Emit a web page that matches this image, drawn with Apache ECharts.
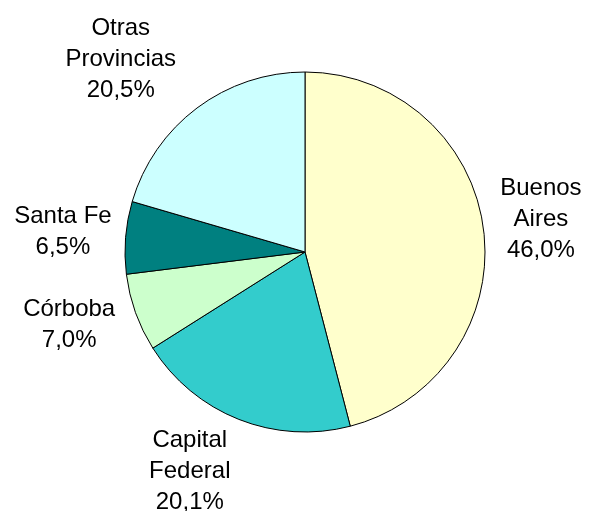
<!DOCTYPE html>
<html>
<head>
<meta charset="utf-8">
<script src="https://cdn.jsdelivr.net/npm/echarts@6/dist/echarts.min.js"></script>
<style>
  html, body { margin: 0; padding: 0; background: #fff; }
  #chart { width: 592px; height: 511px; }
</style>
</head>
<body>
<div id="chart"></div>
<script>
// data, clockwise from 12 o'clock
var regions = ['Buenos\nAires', 'Capital\nFederal', 'Córboba', 'Santa Fe', 'Otras\nProvincias'];
var shares = [46.0, 20.1, 7.0, 6.5, 20.5];
var sliceColors = ['#ffffcc', '#33cccc', '#ccffcc', '#008080', '#ccffff'];

document.addEventListener('DOMContentLoaded', function() {
    var chart = echarts.init(document.getElementById('chart'), null, { renderer: 'canvas' });

    var cx = 305, cy = 252, R = 180, gap = 12;
    var total = shares.reduce(function(a, b) { return a + b; }, 0);

    // mid angle of each slice, measured clockwise from 12 o'clock
    var midAngles = [];
    var acc = 0;
    shares.forEach(function(v) {
        midAngles.push((acc + v / 2) / total * Math.PI * 2);
        acc += v;
    });

    var pieData = regions.map(function(name, i) {
        return { name: name, value: shares[i], itemStyle: { color: sliceColors[i] } };
    });

    chart.setOption({
        animation: false,
        series: [{
            type: 'pie',
            center: [cx, cy],
            radius: [0, R],
            startAngle: 90,
            clockwise: true,
            avoidLabelOverlap: false,
            data: pieData,
            itemStyle: {
                borderColor: '#000',
                borderWidth: 1
            },
            label: {
                show: true,
                position: 'outside',
                color: '#000',
                fontFamily: 'Liberation Sans, Arial, sans-serif',
                fontSize: 24,
                lineHeight: 31,
                align: 'center',
                overflow: 'none',
                formatter: function(p) {
                    return p.name + '\n' + p.value.toFixed(1).replace('.', ',') + '%';
                }
            },
            labelLine: { show: false },
            // labels sit just outside the rim, pushed a bit sideways like the original
            labelLayout: function(p) {
                var a = midAngles[p.dataIndex];
                var ux = Math.sin(a), uy = -Math.cos(a);
                var dx = ux * 1.3, dy = uy;
                var n = Math.sqrt(dx * dx + dy * dy);
                dx /= n; dy /= n;
                var w = p.labelRect.width, h = p.labelRect.height;
                var d = R + gap + Math.abs(dx) * w / 2 + Math.abs(dy) * h / 2;
                return {
                    x: cx + dx * d,
                    y: cy + uy * (R + gap + h / 2) - 2,
                    align: 'center',
                    verticalAlign: 'middle'
                };
            },
            emphasis: { disabled: true }
        }]
    });
});
</script>
</body>
</html>
